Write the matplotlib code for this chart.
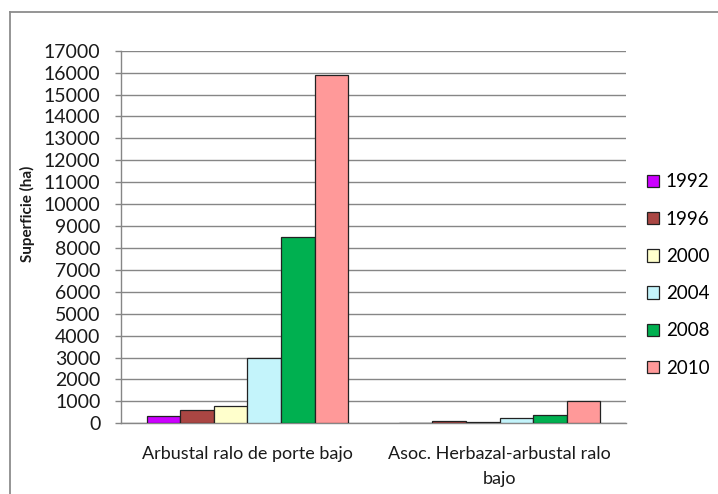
import numpy as np
import matplotlib.pyplot as plt
from matplotlib.lines import Line2D

# Superficie por año y tipo de cobertura
categories = ["Arbustal ralo de porte bajo", "Asoc. Herbazal-arbustal ralo\nbajo"]
years = ["1992", "1996", "2000", "2004", "2008", "2010"]
v1992 = [330, 0]
v1996 = [590, 90]
v2000 = [800, 80]
v2004 = [3000, 230]
v2008 = [8500, 360]
v2010 = [15900, 1000]
series = [v1992, v1996, v2000, v2004, v2008, v2010]
colors = ["#CC00FF", "#AA4643", "#FFFFCC", "#C4F4FB", "#00B050", "#FF9999"]

plt.rcParams["font.family"] = ["Lato", "DejaVu Sans"]

W, H = 718, 494
fig = plt.figure(figsize=(W / 100, H / 100), dpi=100)
ax = fig.add_axes([121.3 / W, 1 - 423.3 / H, (625.7 - 121.3) / W, (423.3 - 50.7) / H])

x = np.arange(len(categories))
group = 0.8
bw = group / len(years)
for i, (yr, vals, c) in enumerate(zip(years, series, colors)):
    ax.bar(x - group / 2 + bw * (i + 0.5), vals, width=bw, color=c,
           edgecolor="#222222", linewidth=0.9, label=yr, zorder=3)

grid_c = "#868686"
ax.set_xlim(-0.5, 1.5)
ax.set_ylim(0, 17000)
ax.set_yticks(np.arange(0, 17001, 1000))
ax.yaxis.grid(True, color=grid_c, linewidth=1.0, zorder=0)
ax.set_xticks(x)
ax.set_xticklabels(categories, fontsize=13, color="#1a1a1a", linespacing=1.7)
ax.tick_params(axis="x", length=0, pad=16)
ax.tick_params(axis="y", length=4.5, color=grid_c, width=1.0, pad=10.5,
               labelsize=14, labelcolor="#1a1a1a")
for s in ["top", "right"]:
    ax.spines[s].set_visible(False)
for s in ["left", "bottom"]:
    ax.spines[s].set_color(grid_c)
    ax.spines[s].set_linewidth(1.0)

fig.text(27 / W, 1 - 214 / H, "Superficie (ha)", rotation=90, ha="center", va="center",
         fontsize=11, fontweight="bold", color="#1a1a1a")

fig.legend(loc="center left", bbox_to_anchor=(647 / W, 1 - 275 / H), frameon=False,
           fontsize=13.5, handlelength=0.65, handleheight=0.65, handletextpad=0.35,
           labelspacing=1.08, borderpad=0, borderaxespad=0)

# chart border (only top and left visible)
fig.add_artist(Line2D([9.5 / W, 1.0], [1 - 12.5 / H, 1 - 12.5 / H], color="#8c8c8c", linewidth=1.3))
fig.add_artist(Line2D([9.5 / W, 9.5 / W], [1 - 12.5 / H, 0.0], color="#8c8c8c", linewidth=1.3))

fig.savefig("out.png", dpi=100)
